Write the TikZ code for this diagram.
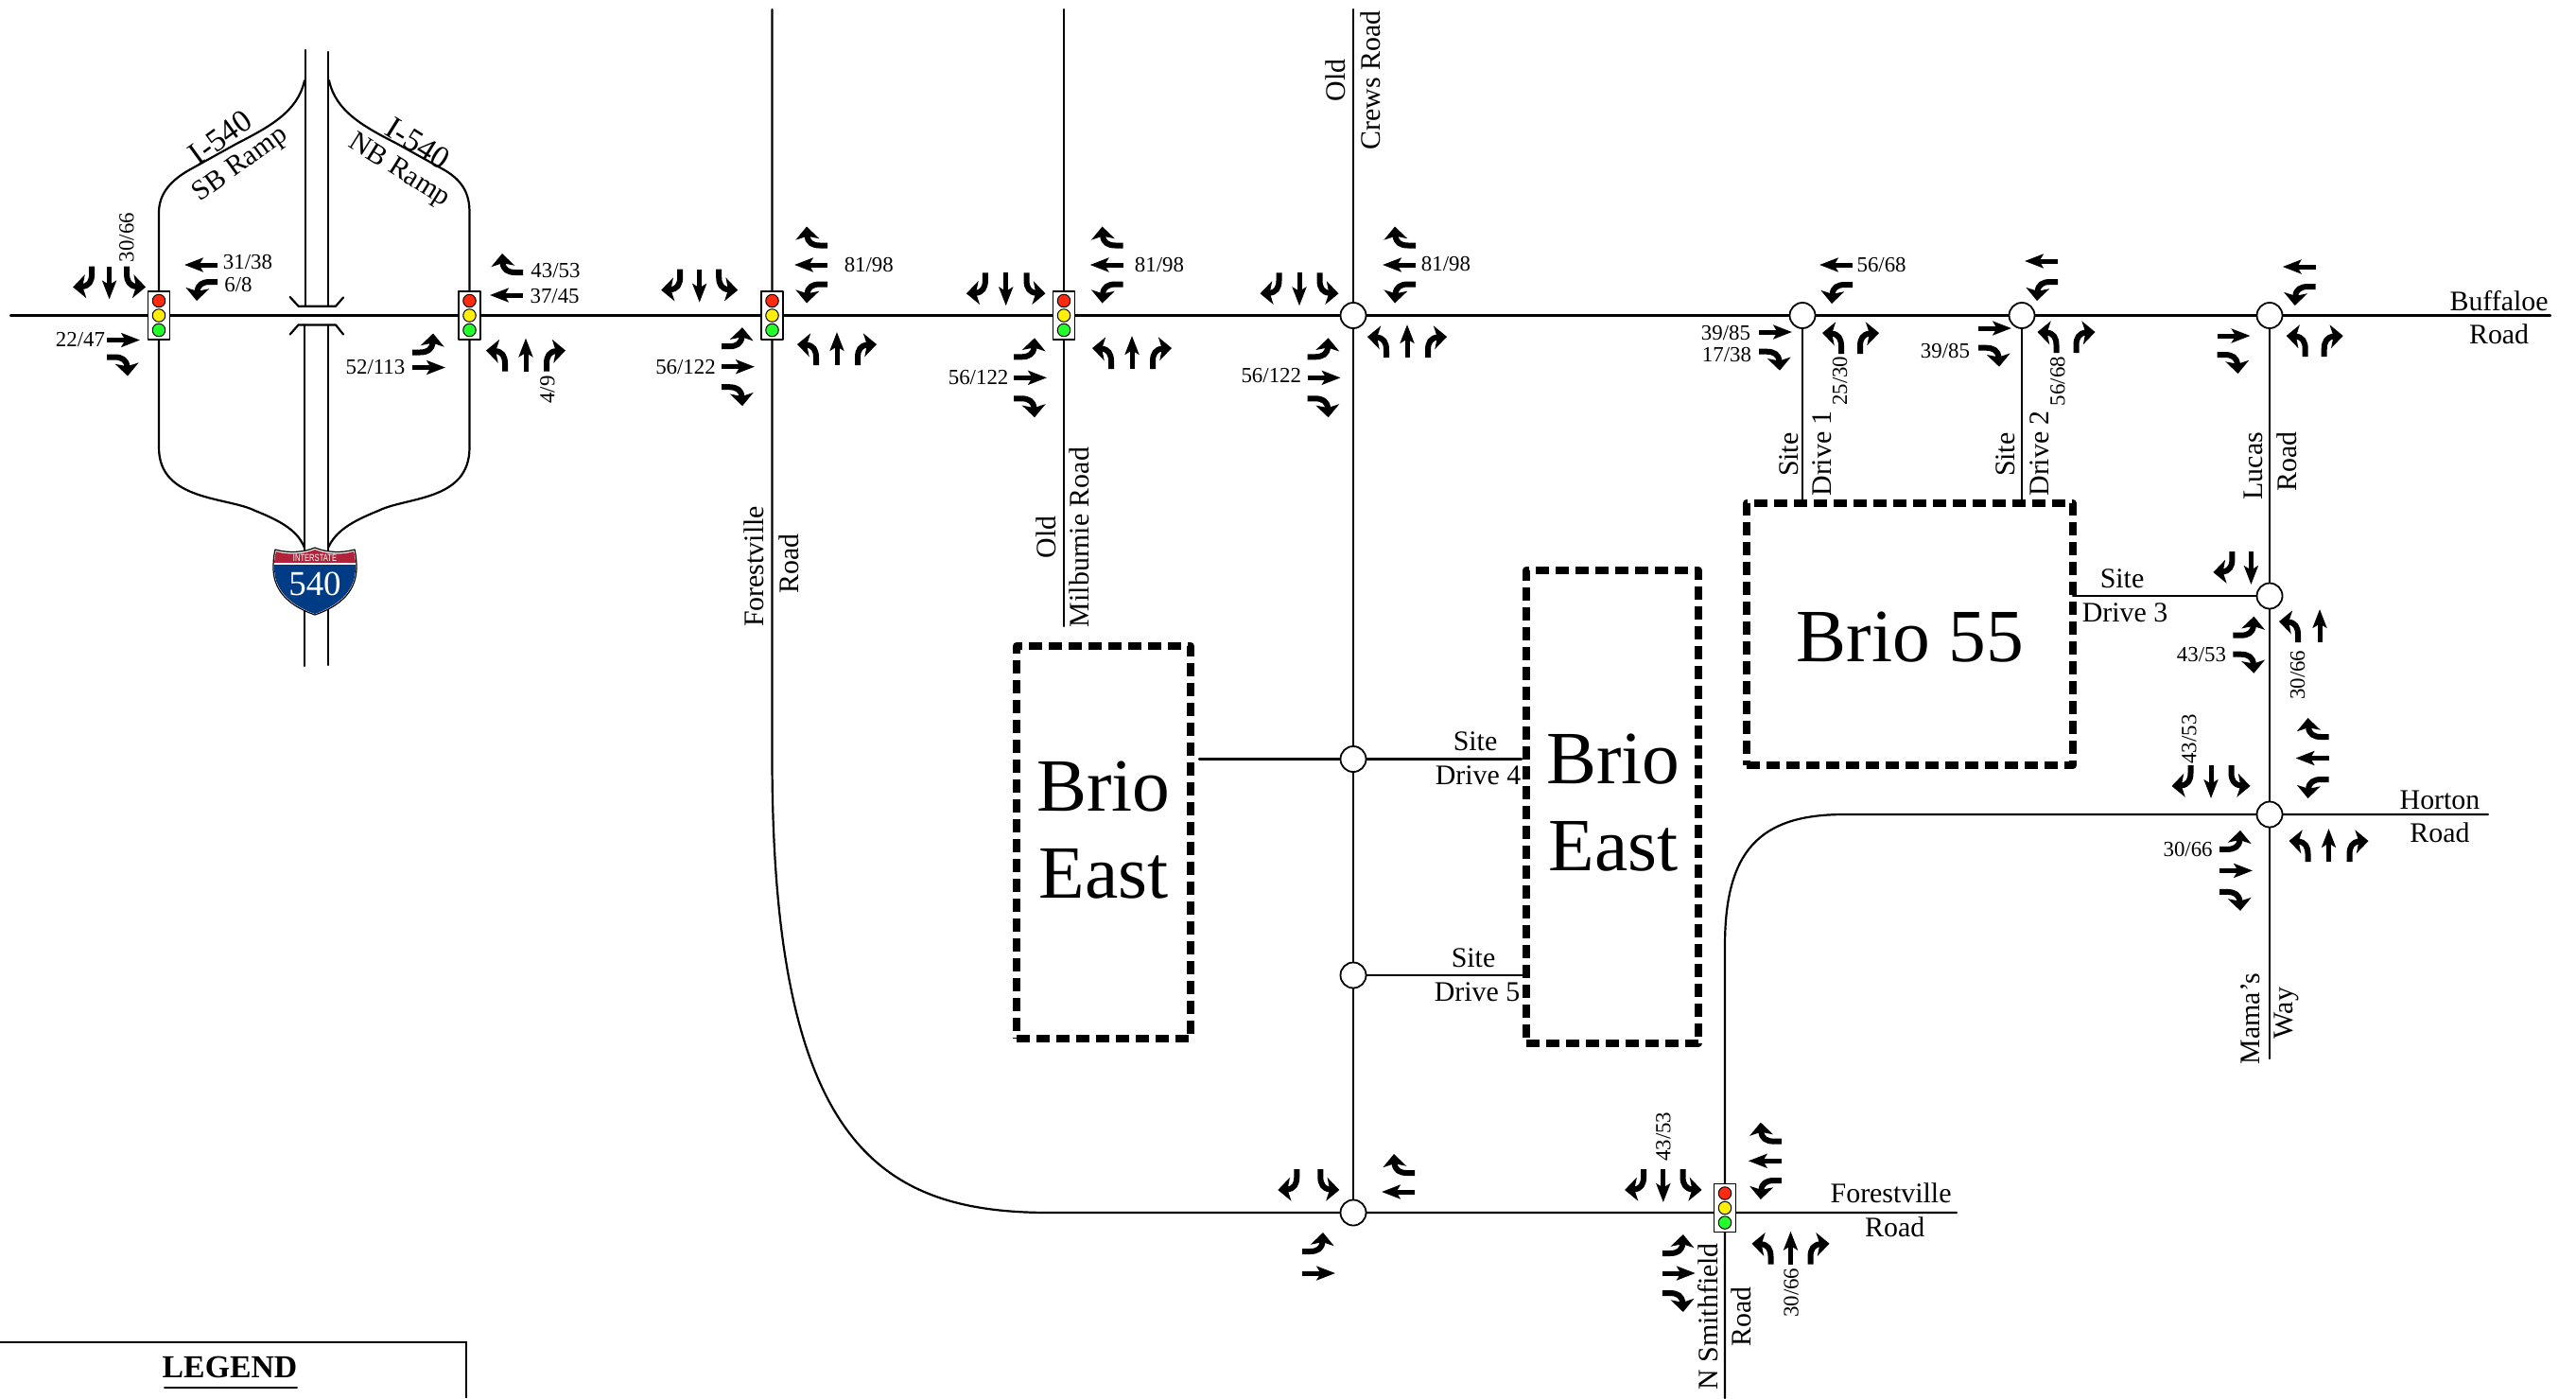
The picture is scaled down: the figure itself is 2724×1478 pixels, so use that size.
\documentclass[tikz,border=0pt]{standalone}
\usepackage{fontspec}
\setmainfont{Liberation Serif}
\setsansfont{Liberation Sans}
\usetikzlibrary{arrows.meta}
\definecolor{sigred}{HTML}{FF2A10}
\definecolor{sigyellow}{HTML}{FFEE08}
\definecolor{siggreen}{HTML}{22FF2A}
\definecolor{shieldred}{HTML}{B0233A}
\definecolor{shieldblue}{HTML}{003C85}
\tikzset{
	road/.style={line width=.022cm},
	lane/.style={line width=.05cm,line cap=butt,-{Stealth[length=5.6pt,width=4.2pt,inset=1.2pt]}},
	turn/.style={line width=.06cm,line cap=butt,-{Stealth[length=3.8pt,width=7pt,inset=.9pt]}},
	lane sep/.store in=\lanesep,
	lane sep=22,
	laneL/.pic={\draw[turn] (-\lanesep,0) -- (-\lanesep,-8) .. controls (-\lanesep,-16) and (-\lanesep-3,-21) .. (-\lanesep-20,-22);},
	laneT/.pic={\draw[lane] (0,0) -- (0,-35);},
	laneR/.pic={\draw[turn] (\lanesep,0) -- (\lanesep,-8) .. controls (\lanesep,-16) and (\lanesep+3,-21) .. (\lanesep+20,-22);},
	lanes/.pic={\foreach \m in {#1} {\pic[transform shape] {lane\m};}},
	junction/.style={circle,draw,fill=white,line width=.018cm,inner sep=0,minimum size=.27cm},
	signalbox/.style={rectangle,draw,fill=white,line width=.012cm,inner sep=0,minimum width=.23cm,minimum height=.51cm},
	lamp/.style={circle,draw,line width=.01cm,inner sep=0,minimum size=.135cm},
	signal/.pic={
		\node[signalbox] (-box) at (0,0) {};
		\node[lamp,fill=sigred] (-red) at (0,-15.5) {};
		\node[lamp,fill=sigyellow] (-amber) at (0,0) {};
		\node[lamp,fill=siggreen] (-go) at (0,15.5) {};
	},
	vol/.style={font=\fontsize{6.5}{7}\selectfont,inner sep=0},
	roadname/.style={font=\fontsize{8.5}{10}\selectfont,inner sep=0},
	rampname/.style={font=\fontsize{9.6}{11}\selectfont,inner sep=0},
	sitename/.style={font=\fontsize{22.6}{26}\selectfont,inner sep=0},
	sitebox/.style={rectangle,draw,line width=.075cm,dash pattern=on .14cm off .07cm,line cap=butt,inner sep=0,outer sep=0}
}
\begin{document}
\begin{tikzpicture}[x=.01cm,y=-.01cm,line join=round,line cap=round]
	\useasboundingbox (0,0) rectangle (2724,1478);
	\coordinate (buffW) at (11,333.5);
	\coordinate (buffE) at (2697,333.5);
	\coordinate (jA) at (168,333.5);
	\coordinate (jB) at (496.5,333.5);
	\coordinate (jC) at (816.5,333.5);
	\coordinate (jD) at (1125,333.5);
	\coordinate (jE) at (1431,333.5);
	\coordinate (jF) at (1906,333.5);
	\coordinate (jG) at (2138,333.5);
	\coordinate (jH) at (2400,333.5);
	\coordinate (jK) at (1431,1282);
	\coordinate (jL) at (1824,1282);
	\coordinate (jS4) at (1431,802.5);
	\coordinate (jS5) at (1431,1031);
	\coordinate (jS3) at (2400,630);
	\coordinate (jM) at (2400,861);

	\draw[road] (buffW) -- (buffE);
	\draw[road] (816.5,10) -- (816.5,800) .. controls (816.5,1210) and (930,1282) .. (1110,1282) -- (jK) -- (jL) -- (2069,1282);
	\draw[road] (1125,10) -- (1125,662);
	\draw[road] (1431,10) -- (jK);
	\draw[road] (1268,802.5) -- (1609,802.5);
	\draw[road] (jS5) -- (1615,1031);
	\draw[road] (jF) -- (1906,532);
	\draw[road] (jG) -- (2138,532);
	\draw[road] (jH) -- (2400,1119);
	\draw[road] (2192,630) -- (jS3);
	\draw[road] (2631,861) -- (1950,861) .. controls (1860,861) and (1824,900) .. (1824,1000) -- (1824,1478);

	\draw[road] (323,53) -- (323,323.7);
	\draw[road] (347,55) -- (347,323.7);
	\draw[road] (322,343.4) -- (322,704);
	\draw[road] (347,343.4) -- (347,703);
	\draw[road] (306.7,314) -- (315.6,323.7) -- (355,323.7) -- (363,314.5);
	\draw[road] (306.7,353.5) -- (315.6,343.4) -- (355,343.4) -- (363,353.5);
	\draw[road] (322,85) .. controls (315,118) and (285,134) .. (250,152) -- (205,177) .. controls (180,190) and (168,205) .. (168,225) -- (jA);
	\draw[road] (348,85) .. controls (355,118) and (385,134) .. (420,152) -- (465,177) .. controls (490,190) and (496.5,205) .. (496.5,225) -- (jB);
	\draw[road] (jA) -- (168,473) .. controls (168,530) and (240,525) .. (270,540) .. controls (300,552) and (315,562) .. (322,579);
	\draw[road] (jB) -- (496.5,473) .. controls (496.5,530) and (430,525) .. (400,540) .. controls (370,552) and (355,562) .. (347,579);

	\draw[fill=white,line width=.012cm] (291,581) .. controls (305,585) and (321,584) .. (333,579) .. controls (345,584) and (361,585) .. (375,581) .. controls (377,590) and (377,595) .. (377,602) .. controls (376,628) and (356,642) .. (333,650) .. controls (310,642) and (290,628) .. (289,602) .. controls (289,595) and (289,590) .. (291,581) -- cycle;
	\begin{scope}
		\clip (292,583) .. controls (305,587) and (321,586) .. (333,581) .. controls (345,586) and (361,587) .. (374,583) .. controls (376,590) and (376,595) .. (376,602) .. controls (375,627) and (355,641) .. (333,649) .. controls (311,641) and (291,627) .. (290,602) .. controls (290,595) and (290,590) .. (292,583) -- cycle;
		\fill[shieldred] (285,575) rectangle (380,595);
		\fill[shieldblue] (285,596.5) rectangle (380,655);
	\end{scope}
	\node[font=\sffamily\fontsize{3}{3}\selectfont,text=white,inner sep=0,xscale=.72,transform shape] (shieldTop) at (333,590) {INTERSTATE};
	\node[font=\fontsize{10.5}{12}\selectfont,text=white,inner sep=0] (shieldNum) at (333,617) {540};

	\pic (sigA) at (jA) {signal};
	\pic (sigB) at (jB) {signal};
	\pic (sigC) at (jC) {signal};
	\pic (sigD) at (jD) {signal};
	\pic (sigL) at (1824,1277) {signal};
	\node[junction] (cirE) at (jE) {};
	\node[junction] (cirF) at (jF) {};
	\node[junction] (cirG) at (jG) {};
	\node[junction] (cirH) at (jH) {};
	\node[junction] (cirK) at (jK) {};
	\node[junction] (cirS4) at (jS4) {};
	\node[junction] (cirS5) at (jS5) {};
	\node[junction] (cirS3) at (jS3) {};
	\node[junction] (cirM) at (jM) {};

	\pic[lane sep=18.5,rotate=180] at (115.6,281.5) {lanes={L,T,R}};
	\pic[lane sep=18,rotate=90] at (230,280) {lanes={T,L}};
	\pic[lane sep=18,rotate=-90] at (113,359.5) {lanes={T,R}};
	\pic[lane sep=24,rotate=90] at (553,312) {lanes={R,T}};
	\pic[lane sep=16,rotate=-90] at (436,388.5) {lanes={L,T}};
	\pic at (556,392.5) {lanes={L,T,R}};

	\pic[lane sep=20.5,rotate=180] at (739.7,284.7) {lanes={L,T,R}};
	\pic[lane sep=20.5,rotate=90] at (875,280) {lanes={L,T,R}};
	\pic[lane sep=21.5,rotate=-90] at (763,387.7) {lanes={L,T,R}};
	\pic at (885,386) {lanes={L,T,R}};

	\pic[lane sep=21.8,rotate=180] at (1063.7,288.3) {lanes={L,T,R}};
	\pic[lane sep=20.5,rotate=90] at (1187.6,280) {lanes={L,T,R}};
	\pic[rotate=-90] at (1072,399.3) {lanes={L,T,R}};
	\pic at (1197,390) {lanes={L,T,R}};

	\pic[lane sep=21.5,rotate=180] at (1374,288.3) {lanes={L,T,R}};
	\pic[lane sep=20.5,rotate=90] at (1497,280) {lanes={L,T,R}};
	\pic[rotate=-90] at (1382.6,399.3) {lanes={L,T,R}};
	\pic at (1488,378) {lanes={L,T,R}};

	\pic[lane sep=21,rotate=90] at (1959,280) {lanes={T,L}};
	\pic[lane sep=20.7,rotate=-90] at (1860,351) {lanes={T,R}};
	\pic[lane sep=10] at (1957,374) {lanes={L,R}};

	\pic[rotate=90] at (2176,276) {lanes={T,L}};
	\pic[lane sep=20.7,rotate=-90] at (2092,347) {lanes={T,R}};
	\pic[lane sep=10.5] at (2185,373) {lanes={L,R}};

	\pic[lane sep=21,rotate=90] at (2448.7,282) {lanes={T,L}};
	\pic[lane sep=20,rotate=-90] at (2344.5,355) {lanes={T,R}};
	\pic[lane sep=10] at (2447.7,377) {lanes={L,R}};

	\pic[lane sep=20,rotate=180] at (2380.4,583) {lanes={T,R}};
	\pic[lane sep=10,rotate=-90] at (2361.4,681.7) {lanes={L,R}};
	\pic[lane sep=23] at (2453,679) {lanes={L,T}};

	\pic[lane sep=21.5,rotate=180] at (2338,809) {lanes={L,T,R}};
	\pic[lane sep=22.5,rotate=90] at (2462.5,801.5) {lanes={L,T,R}};
	\pic[lane sep=22.5,rotate=-90] at (2347,920.4) {lanes={L,T,R}};
	\pic at (2462.5,911) {lanes={L,T,R}};

	\pic[lane sep=12.5,rotate=180] at (1383.8,1236) {lanes={L,R}};
	\pic[lane sep=20,rotate=90] at (1496,1260) {lanes={R,T}};
	\pic[lane sep=23,rotate=-90] at (1377,1346) {lanes={L,T}};

	\pic[lane sep=20.7,rotate=180] at (1758.8,1236) {lanes={L,T,R}};
	\pic[lane sep=20.7,rotate=90] at (1883.8,1227.3) {lanes={L,T,R}};
	\pic[lane sep=21,rotate=-90] at (1757.8,1346) {lanes={L,T,R}};
	\pic[lane sep=21] at (1893.5,1336.7) {lanes={L,T,R}};

	\node[vol,rotate=90] (qA1) at (134,251) {30/66};
	\node[vol] (qA2) at (262,277) {31/38};
	\node[vol] (qA3) at (252,301) {6/8};
	\node[vol] (qA4) at (85,359.5) {22/47};
	\node[vol] (qB1) at (587.5,286.5) {43/53};
	\node[vol] (qB2) at (586.6,312.7) {37/45};
	\node[vol] (qB3) at (397,388) {52/113};
	\node[vol,rotate=90] (qB4) at (579,412) {4/9};
	\node[vol] (qC1) at (918.8,280.3) {81/98};
	\node[vol] (qC2) at (725,387.7) {56/122};
	\node[vol] (qD1) at (1226,280) {81/98};
	\node[vol] (qD2) at (1034.6,399) {56/122};
	\node[vol] (qE1) at (1529,279) {81/98};
	\node[vol] (qE2) at (1344.3,397) {56/122};
	\node[vol] (qF1) at (1989.6,280) {56/68};
	\node[vol] (qF2) at (1825,351.7) {39/85};
	\node[vol] (qF3) at (1826,375) {17/38};
	\node[vol,rotate=90] (qF4) at (1945.7,402.7) {25/30};
	\node[vol] (qG1) at (2057,371) {39/85};
	\node[vol,rotate=90] (qG2) at (2175.8,403) {56/68};
	\node[vol] (qS1) at (2327.9,692) {43/53};
	\node[vol,rotate=90] (qS2) at (2429.6,713.7) {30/66};
	\node[vol,rotate=90] (qM1) at (2315,781.5) {43/53};
	\node[vol] (qM2) at (2313.6,897.8) {30/66};
	\node[vol,rotate=90] (qL1) at (1758.8,1201.7) {43/53};
	\node[vol,rotate=90] (qL2) at (1894,1366.7) {30/66};

	\node[rampname,rotate=36] (sb1) at (233,145) {I-540};
	\node[roadname,rotate=36] (sb2) at (254.5,174.5) {SB Ramp};
	\node[rampname,rotate=-32] (nb1) at (442,151.5) {I-540};
	\node[roadname,rotate=-32] (nb2) at (422,181) {NB Ramp};
	\node[roadname,rotate=90] (crews1) at (1412,85) {Old};
	\node[roadname,rotate=90] (crews2) at (1449,85) {Crews Road};
	\node[roadname,rotate=90] (fore1) at (797,599) {Forestville};
	\node[roadname,rotate=90] (fore2) at (834,596) {Road};
	\node[roadname,rotate=90] (milb1) at (1106.5,568) {Old};
	\node[roadname,rotate=90] (milb2) at (1141,568) {Milburnie Road};
	\node[roadname,rotate=90] (drv1a) at (1891.4,480.7) {Site};
	\node[roadname,rotate=90] (drv1b) at (1926.4,479.3) {Drive 1};
	\node[roadname,rotate=90] (drv2a) at (2120.4,480.7) {Site};
	\node[roadname,rotate=90] (drv2b) at (2156.5,479.3) {Drive 2};
	\node[roadname,rotate=90] (luc1) at (2382.4,492.7) {Lucas};
	\node[roadname,rotate=90] (luc2) at (2418.5,488.3) {Road};
	\node[roadname] (buff1) at (2642.6,318.3) {Buffaloe};
	\node[roadname] (buff2) at (2642.6,353.3) {Road};
	\node[roadname] (drv3a) at (2244,612) {Site};
	\node[roadname] (drv3b) at (2247,648) {Drive 3};
	\node[roadname] (drv4a) at (1560,783.5) {Site};
	\node[roadname] (drv4b) at (1563,820) {Drive 4};
	\node[roadname] (drv5a) at (1558,1013) {Site};
	\node[roadname] (drv5b) at (1562,1049) {Drive 5};
	\node[roadname] (hort1) at (2580,846) {Horton};
	\node[roadname] (hort2) at (2580,880) {Road};
	\node[roadname,rotate=90] (mama1) at (2380,1077) {Mama\symbol{39}s};
	\node[roadname,rotate=90] (mama2) at (2418,1071) {Way};
	\node[roadname] (fsv1) at (1999.6,1261.7) {Forestville};
	\node[roadname] (fsv2) at (2003.7,1297.3) {Road};
	\node[roadname,rotate=90] (smith1) at (1805.7,1391.7) {N Smithfield};
	\node[roadname,rotate=90] (smith2) at (1841.4,1391.7) {Road};

	\node[sitebox,minimum width=1.84cm,minimum height=4.15cm] (eastW) at (1167,890.5) {};
	\node[sitebox,minimum width=1.82cm,minimum height=5cm] (eastE) at (1705,853) {};
	\node[sitebox,minimum width=3.45cm,minimum height=2.77cm] (brio) at (2019.5,670.5) {};
	\node[sitename] (eastW1) at (1167,832) {Brio};
	\node[sitename] (eastW2) at (1167,924) {East};
	\node[sitename] (eastE1) at (1706,802.5) {Brio};
	\node[sitename] (eastE2) at (1706,894.6) {East};
	\node[sitename] (brioT) at (2020,674) {Brio 55};

	\coordinate (legW) at (0,1419);
	\coordinate (legC) at (493,1419);
	\coordinate (legS) at (493,1478);
	\draw[line width=.027cm,line cap=butt,line join=miter] (legW) -- (legC) -- (legS);
	\node[font=\bfseries\fontsize{9.6}{12}\selectfont,inner sep=0] (legT) at (243,1445) {LEGEND};
	\draw[line width=.02cm] (174,1467) -- (314,1467);
\end{tikzpicture}
\end{document}
